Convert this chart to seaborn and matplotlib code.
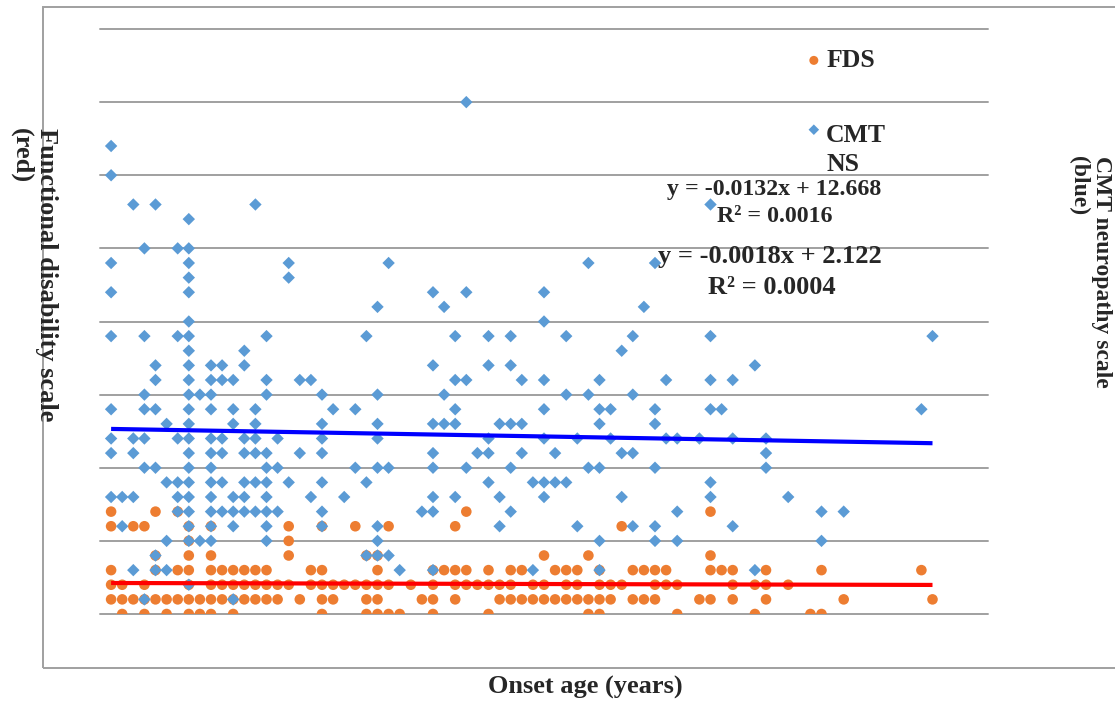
import numpy as np
import pandas as pd
import matplotlib.pyplot as plt
import seaborn as sns
from matplotlib.patches import Rectangle

# ── Data: onset age (years) of each patient, grouped by score ──
# FDS (functional disability scale, red axis)
FDS_0 = [2, 4, 6, 8, 9, 10, 12, 20, 24, 25, 26, 27, 30, 35, 44, 45, 52, 59, 64, 65]
FDS_1 = [1, 2, 3, 4, 5, 6, 7, 8, 9, 10, 11, 12, 13, 14, 15, 16, 18, 20, 21, 24, 25,
         29, 30, 32, 36, 37, 38, 39, 40, 41, 42, 43, 44, 45, 46, 48, 49, 50,
         54, 55, 57, 60, 67, 75]
FDS_2 = [1, 2, 4, 8, 10, 11, 12, 13, 14, 15, 16, 17, 19, 20, 21, 22, 23, 24, 25, 26,
         28, 30, 32, 33, 34, 35, 36, 37, 39, 40, 42, 43, 45, 46, 47, 50, 51, 52,
         57, 59, 60, 62]
FDS_3 = [1, 5, 7, 8, 10, 11, 12, 13, 14, 15, 19, 20, 25,
         30, 31, 32, 33, 35, 37, 38, 41, 42, 43, 45, 48, 49, 50, 51,
         55, 56, 57, 60, 65, 74]
FDS_4 = [5, 8, 10, 17, 24, 25, 40, 44, 55]
FDS_5 = [8, 17]
FDS_6 = [1, 3, 4, 8, 10, 17, 20, 23, 26, 32, 47]
FDS_7 = [1, 5, 7, 33, 55]

# CMTNS (CMT neuropathy scale, blue axis)
CMT_1 = [4, 12]
CMT_2 = [8]
CMT_3 = [3, 5, 6, 27, 30, 39, 45, 59]
CMT_4 = [5, 24, 25, 26]
CMT_5 = [6, 8, 9, 10, 15, 25, 45, 50, 52, 65]
CMT_6 = [2, 8, 10, 12, 15, 20, 25, 36, 43, 48, 50, 57]
CMT_7 = [7, 8, 10, 11, 12, 13, 14, 15, 16, 20, 29, 30, 37, 52, 65, 67]
CMT_8 = [1, 2, 3, 7, 8, 10, 12, 13, 15, 19, 22, 30, 32, 36, 40, 47, 55, 62]
CMT_9 = [6, 7, 8, 10, 11, 13, 14, 15, 17, 20, 24, 35, 39, 40, 41, 42, 55]
CMT_10 = [4, 5, 8, 10, 15, 16, 23, 25, 26, 30, 33, 37, 44, 45, 50, 60]
CMT_11 = [1, 3, 8, 10, 11, 13, 14, 15, 18, 20, 30, 34, 35, 38, 41, 47, 48, 60]
CMT_12 = [1, 3, 4, 7, 8, 10, 11, 13, 14, 16, 20, 25, 35, 40, 43, 46, 51, 52, 54, 57, 60]
CMT_13 = [6, 8, 12, 14, 20, 25, 30, 31, 32, 36, 37, 38, 45, 50]
CMT_14 = [1, 4, 5, 8, 10, 12, 14, 21, 23, 32, 40, 45, 46, 50, 55, 56, 74]
CMT_15 = [4, 8, 9, 10, 15, 20, 25, 31, 42, 44, 48]
CMT_16 = [5, 8, 10, 11, 12, 15, 18, 19, 32, 33, 38, 40, 45, 51, 55, 57]
CMT_17 = [5, 8, 10, 11, 13, 30, 35, 37, 59]
CMT_18 = [8, 13, 47]
CMT_19 = [1, 4, 7, 8, 15, 24, 32, 35, 37, 42, 48, 55, 75]
CMT_20 = [8, 40]
CMT_21 = [25, 31, 49]
CMT_22 = [1, 8, 30, 33, 40]
CMT_23 = [8, 17]
CMT_24 = [1, 8, 17, 26, 44, 50]
CMT_25 = [4, 7, 8]
CMT_27 = [8]
CMT_28 = [3, 5, 14, 55]
CMT_30 = [1]
CMT_32 = [1]
CMT_35 = [33]

# linear trendlines (as reported on the chart): FDS, CMTNS
TREND_SLOPE = [-0.0018, -0.0132]
TREND_INTERCEPT = [2.122, 12.668]
TREND_R2 = [0.0004, 0.0016]

ORANGE = "#ED7D31"
BLUE = "#5B9BD5"
GRID = "#a0a0a0"
FONT = ["Liberation Serif", "DejaVu Serif"]


def to_frame(groups):
    rows = [(age, score) for score, ages in groups for age in ages]
    return pd.DataFrame(rows, columns=["onset", "score"])


fds = to_frame([(0, FDS_0), (1, FDS_1), (2, FDS_2), (3, FDS_3),
                (4, FDS_4), (5, FDS_5), (6, FDS_6), (7, FDS_7)])
cmt = to_frame([(1, CMT_1), (2, CMT_2), (3, CMT_3), (4, CMT_4), (5, CMT_5),
                (6, CMT_6), (7, CMT_7), (8, CMT_8), (9, CMT_9), (10, CMT_10),
                (11, CMT_11), (12, CMT_12), (13, CMT_13), (14, CMT_14),
                (15, CMT_15), (16, CMT_16), (17, CMT_17), (18, CMT_18),
                (19, CMT_19), (20, CMT_20), (21, CMT_21), (22, CMT_22),
                (23, CMT_23), (24, CMT_24), (25, CMT_25), (27, CMT_27),
                (28, CMT_28), (30, CMT_30), (32, CMT_32), (35, CMT_35)])

sns.set_theme(style="white")
plt.rcParams["font.family"] = FONT
plt.rcParams["font.weight"] = "bold"

W, H = 1115, 701
fig = plt.figure(figsize=(W / 100, H / 100), dpi=100, facecolor="white")
ax = fig.add_axes([100 / W, 1 - 614 / H, 888 / W, 585 / H])

sns.scatterplot(data=fds, x="onset", y="score", marker="o", s=58, color=ORANGE,
                edgecolor="none", linewidth=0, ax=ax, label="FDS", zorder=3)
sns.scatterplot(data=cmt, x="onset", y="score", marker="D", s=40, color=BLUE,
                edgecolor="none", linewidth=0, ax=ax, label="CMT\nNS", zorder=4)

# trendlines over the observed onset range
for df, col, m, b in [(fds, "#ff0000", TREND_SLOPE[0], TREND_INTERCEPT[0]),
                      (cmt, "#0000ff", TREND_SLOPE[1], TREND_INTERCEPT[1])]:
    xs = np.array([df["onset"].min(), df["onset"].max()])
    ax.plot(xs, m * xs + b, color=col, lw=3.0, zorder=5, solid_capstyle="butt")

ax.set_xlim(0, 80)
ax.set_ylim(0, 40)
ax.set_yticks(np.arange(0, 41, 5))
ax.set_xticks([])
ax.yaxis.grid(True, color=GRID, linewidth=1.4)
ax.xaxis.grid(False)
for gl in ax.yaxis.get_gridlines():
    gl.set_clip_on(False)
ax.tick_params(left=False, labelleft=False, bottom=False, labelbottom=False)
for s in ax.spines.values():
    s.set_visible(False)
ax.set_xlabel("")
ax.set_ylabel("")

leg = ax.legend(loc="upper left", bbox_to_anchor=(783 / W, 1 - 26 / H),
                bbox_transform=fig.transFigure, frameon=False,
                prop={"family": FONT, "weight": "bold", "size": 18.5},
                handlelength=0.6, handletextpad=0.18, labelspacing=2.0,
                markerscale=0.85)
for t in leg.get_texts():
    t.set_linespacing(1.35)
# keep the CMT marker level with the first line of its two-line label
cmt_handle = leg.legend_handles[1]
off = np.asarray(cmt_handle.get_offsets(), dtype=float).copy()
off[:, 1] += 16
cmt_handle.set_offsets(off)

# trendline equations
eq_font = dict(family=FONT, weight="bold", ha="center", va="center")
fig.text(774 / W, 1 - 190 / H,
         f"y = {TREND_SLOPE[1]:.4f}x + {TREND_INTERCEPT[1]:.3f}", size=17.2, **eq_font)
fig.text(775 / W, 1 - 217 / H, f"R² = {TREND_R2[1]:.4f}", size=17.2, **eq_font)
fig.text(770 / W, 1 - 257 / H,
         f"y = {TREND_SLOPE[0]:.4f}x + {TREND_INTERCEPT[0]:.3f}", size=19, **eq_font)
fig.text(772 / W, 1 - 287 / H, f"R² = {TREND_R2[0]:.4f}", size=19, **eq_font)

# axis titles
fig.text(585 / W, 1 - 687 / H, "Onset age (years)", ha="center", va="center",
         size=19, weight="bold", family=FONT)
fig.text(34 / W, 1 - 128 / H, "Functional disability scale\n(red)",
         rotation=-90, ha="center", va="top", multialignment="left",
         size=19, weight="bold", family=FONT, linespacing=1.1)
fig.text(1090 / W, 1 - 156 / H, "CMT neuropathy scale\n(blue)",
         rotation=-90, ha="center", va="top", multialignment="left",
         size=17, weight="bold", family=FONT, linespacing=1.1)

# chart-area frame (right edge runs off the image)
fig.add_artist(Rectangle((43 / W, 1 - 668 / H), 1.2, 661 / H,
                         transform=fig.transFigure, fill=False,
                         edgecolor=GRID, linewidth=1.4))

fig.savefig("out.png", dpi=100, facecolor="white")
